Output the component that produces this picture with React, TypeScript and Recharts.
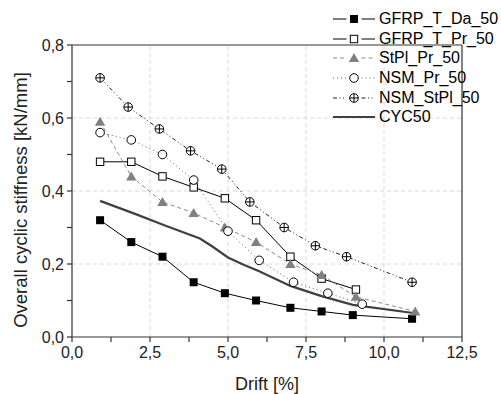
import React from 'react'
import { LineChart, Line, XAxis, YAxis, ReferenceLine, Legend } from 'recharts'

// drift [%] / overall cyclic stiffness [kN/mm]
const daDrift = [0.9, 1.9, 2.9, 3.9, 4.9, 5.9, 7.0, 8.0, 9.0, 10.9]
const daStiff = [0.32, 0.26, 0.22, 0.15, 0.12, 0.10, 0.08, 0.07, 0.06, 0.05]

const prDrift = [0.9, 1.9, 2.9, 3.9, 4.9, 5.9, 7.0, 8.0, 9.1]
const prStiff = [0.48, 0.48, 0.44, 0.41, 0.38, 0.32, 0.22, 0.16, 0.13]

const stplDrift = [0.9, 1.9, 2.9, 3.9, 4.9, 5.9, 7.0, 8.0, 9.1, 11.0]
const stplStiff = [0.59, 0.44, 0.37, 0.34, 0.30, 0.26, 0.20, 0.17, 0.11, 0.07]

const nsmDrift = [0.9, 1.9, 2.9, 3.9, 5.0, 6.0, 7.1, 8.2, 9.3]
const nsmStiff = [0.56, 0.54, 0.50, 0.43, 0.29, 0.21, 0.15, 0.12, 0.09]

const nsmStplDrift = [0.9, 1.8, 2.8, 3.8, 4.8, 5.7, 6.8, 7.8, 8.8, 10.9]
const nsmStplStiff = [0.71, 0.63, 0.57, 0.51, 0.46, 0.37, 0.30, 0.25, 0.22, 0.15]

const cycDrift = [0.9, 2.0, 3.0, 4.1, 4.5, 5.0, 5.5, 6.0, 7.0, 8.0, 9.0, 11.0]
const cycStiff = [0.373, 0.338, 0.305, 0.27, 0.248, 0.218, 0.198, 0.18, 0.14, 0.112, 0.088, 0.065]

const xTicks = [0, 1.25, 2.5, 3.75, 5, 6.25, 7.5, 8.75, 10, 11.25, 12.5]
const yTicks = [0, 0.1, 0.2, 0.3, 0.4, 0.5, 0.6, 0.7, 0.8]
const xGrid = [2.5, 5, 7.5, 10]
const yGrid = [0.2, 0.4, 0.6]

const pairs = (xs: number[], ys: number[]) => xs.map((x, i) => ({ x, y: ys[i] }))

const FONT = '"Liberation Sans", Arial, sans-serif'
const AXIS = '#333'

type Kind = 'filledSquare' | 'openSquare' | 'triangle' | 'circle' | 'crossCircle' | 'none'

const series: { name: string; data: { x: number; y: number }[]; stroke: string; width: number; dash?: string; kind: Kind }[] = [
    { name: 'GFRP_T_Da_50', data: pairs(daDrift, daStiff), stroke: '#000', width: 1, kind: 'filledSquare' },
    { name: 'GFRP_T_Pr_50', data: pairs(prDrift, prStiff), stroke: '#000', width: 1, kind: 'openSquare' },
    { name: 'StPl_Pr_50', data: pairs(stplDrift, stplStiff), stroke: '#8a8a8a', width: 1, dash: '4 3', kind: 'triangle' },
    { name: 'NSM_Pr_50', data: pairs(nsmDrift, nsmStiff), stroke: '#666', width: 1, dash: '1 3', kind: 'circle' },
    { name: 'NSM_StPl_50', data: pairs(nsmStplDrift, nsmStplStiff), stroke: '#222', width: 1, dash: '4 2.5 1 2.5 1 2.5', kind: 'crossCircle' },
    { name: 'CYC50', data: pairs(cycDrift, cycStiff), stroke: '#404040', width: 2.2, kind: 'none' },
]

function Marker({ kind, cx, cy }: { kind: Kind; cx: number; cy: number }) {
    switch (kind) {
        case 'filledSquare':
            return <rect x={cx - 4} y={cy - 4} width={8} height={8} fill="#000" />
        case 'openSquare':
            return <rect x={cx - 3.7} y={cy - 3.7} width={7.4} height={7.4} fill="#fff" stroke="#000" strokeWidth={1} />
        case 'triangle':
            return <polygon points={`${cx},${cy - 5} ${cx + 5.2},${cy + 4} ${cx - 5.2},${cy + 4}`} fill="#808080" />
        case 'circle':
            return <circle cx={cx} cy={cy} r={4.3} fill="#fff" stroke="#000" strokeWidth={1} />
        case 'crossCircle':
            return (
                <g>
                    <circle cx={cx} cy={cy} r={4.3} fill="#fff" stroke="#000" strokeWidth={1} />
                    <line x1={cx - 4.3} y1={cy} x2={cx + 4.3} y2={cy} stroke="#000" strokeWidth={1} />
                    <line x1={cx} y1={cy - 4.3} x2={cx} y2={cy + 4.3} stroke="#000" strokeWidth={1} />
                </g>
            )
        default:
            return null
    }
}

const dotFor = (kind: Kind) => (props: any) => {
    const { cx, cy, key, index } = props
    if (kind === 'none' || cx == null || cy == null) return <g key={key ?? index} />
    return <g key={key ?? index}><Marker kind={kind} cx={cx} cy={cy} /></g>
}

const fmt = (v: number) => v.toFixed(1).replace('.', ',')

function LegendBox() {
    return (
        <div style={{ fontFamily: FONT, fontSize: 16, color: '#000' }}>
            {series.map((s) => {
                const gap = s.kind === 'none' ? 0 : 7.5
                return (
                    <div key={s.name} style={{ display: 'flex', alignItems: 'center', height: 19.6 }}>
                        <svg width={42} height={14} style={{ overflow: 'visible' }}>
                            {gap === 0 ? (
                                <line x1={0} y1={7} x2={42} y2={7} stroke={s.stroke} strokeWidth={s.width} strokeDasharray={s.dash} />
                            ) : (
                                <>
                                    <line x1={0} y1={7} x2={21 - gap} y2={7} stroke={s.stroke} strokeWidth={s.width} strokeDasharray={s.dash} />
                                    <line x1={21 + gap} y1={7} x2={42} y2={7} stroke={s.stroke} strokeWidth={s.width} strokeDasharray={s.dash} />
                                </>
                            )}
                            <Marker kind={s.kind} cx={21} cy={7} />
                        </svg>
                        <span style={{ marginLeft: 4, lineHeight: '16px' }}>{s.name}</span>
                    </div>
                )
            })}
        </div>
    )
}

// rotated y-axis title, centred a little below the plot middle
function YTitle(props: any) {
    const vb = props.viewBox || { x: 0, y: 0, width: 0, height: 0 }
    const cx = vb.x + 20
    const cy = vb.y + vb.height / 2 + 9
    return (
        <text
            x={cx}
            y={cy}
            transform={`rotate(-90, ${cx}, ${cy})`}
            textAnchor="middle"
            dominantBaseline="central"
            fill="#222"
            fontSize={18.5}
            fontFamily={FONT}
        >
            Overall cyclic stiffness [kN/mm]
        </text>
    )
}

export default function App() {
    return (
        <div style={{ position: 'absolute', left: 0, top: 0, background: '#fff' }}>
            <LineChart width={501} height={394} margin={{ top: 45, right: 39, bottom: 0, left: 0 }}>
                {/* major grid, dashed */}
                {xGrid.map((v) => (
                    <ReferenceLine key={`gx${v}`} x={v} stroke="#d8d8d8" strokeDasharray="4 3" />
                ))}
                {yGrid.map((v) => (
                    <ReferenceLine key={`gy${v}`} y={v} stroke="#d8d8d8" strokeDasharray="4 3" />
                ))}
                {/* frame top / right */}
                <ReferenceLine y={0.8} stroke={AXIS} strokeWidth={1.2} />
                <ReferenceLine x={12.5} stroke={AXIS} strokeWidth={1.2} />
                <XAxis
                    dataKey="x"
                    type="number"
                    domain={[0, 12.5]}
                    ticks={xTicks}
                    height={57}
                    allowDataOverflow
                    stroke={AXIS}
                    strokeWidth={1.2}
                    tickSize={5}
                    tickMargin={5}
                    tick={{ fill: '#222', fontSize: 16, fontFamily: FONT }}
                    tickFormatter={(v: number) => (Math.round(v * 4) % 2 === 0 ? fmt(v) : '')}
                    label={{ value: 'Drift [%]', position: 'insideBottom', offset: 4, fill: '#222', fontSize: 18, fontFamily: FONT }}
                />
                <YAxis
                    type="number"
                    domain={[0, 0.8]}
                    ticks={yTicks}
                    width={72}
                    allowDataOverflow
                    stroke={AXIS}
                    strokeWidth={1.2}
                    tickSize={5}
                    tickMargin={3}
                    tick={{ fill: '#222', fontSize: 16, fontFamily: FONT }}
                    tickFormatter={(v: number) => (Math.round(v * 10) % 2 === 0 ? fmt(v) : '')}
                    label={<YTitle />}
                />
                {series.map((s) => (
                    <Line
                        key={s.name}
                        data={s.data}
                        dataKey="y"
                        name={s.name}
                        type="linear"
                        stroke={s.stroke}
                        strokeWidth={s.width}
                        strokeDasharray={s.dash}
                        dot={dotFor(s.kind)}
                        activeDot={false}
                        isAnimationActive={false}
                    />
                ))}
                <Legend
                    layout="vertical"
                    align="center"
                    verticalAlign="middle"
                    content={() => <LegendBox />}
                    wrapperStyle={{ top: 9.5, left: 333, right: 'auto', bottom: 'auto', width: 170 }}
                />
            </LineChart>
        </div>
    )
}
